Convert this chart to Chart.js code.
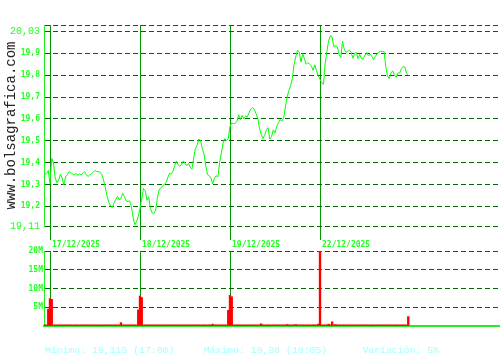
<!DOCTYPE html>
<html><head><meta charset="utf-8">
<script src="https://cdn.jsdelivr.net/npm/chart.js@4"></script>
<style>
html,body{margin:0;padding:0;background:#fff;}
#wrap{position:relative;width:500px;height:360px;overflow:hidden;background:#fff;}
canvas{position:absolute;left:0;}
#price{top:0;}
#vol{top:240px;}
#info{position:absolute;left:45px;top:344px;font-family:"Liberation Mono",monospace;font-size:9.8px;line-height:14px;color:#a6ffff;white-space:pre;}
</style></head><body>
<div id="wrap">
<canvas id="price" width="500" height="250"></canvas>
<canvas id="vol" width="500" height="100"></canvas>
<div id="info"></div>
</div>
<script>
// ---- data ----
const dates = ['17/12/2025', '18/12/2025', '19/12/2025', '22/12/2025'];
const prevPrices = [19.347, 19.35, 19.364];
const prices17 = [19.305,19.42,19.398,19.33,19.308,19.32,19.347,19.33,19.298,19.335,19.345,19.358,19.354,19.348,19.344,19.351,19.342,19.348,19.344,19.351,19.359,19.345,19.336,19.344,19.35,19.356,19.364,19.36,19.358,19.356,19.345,19.318,19.285,19.245,19.218,19.2,19.195,19.215,19.232,19.246,19.23,19.236,19.26,19.245,19.225,19.222,19.225,19.2,19.15,19.115,19.13,19.155];
const prices18 = [19.19,19.235,19.282,19.272,19.228,19.244,19.19,19.17,19.167,19.18,19.235,19.275,19.285,19.29,19.302,19.308,19.33,19.35,19.348,19.36,19.385,19.408,19.39,19.383,19.39,19.408,19.397,19.385,19.397,19.38,19.37,19.42,19.465,19.48,19.508,19.5,19.465,19.44,19.385,19.345,19.34,19.33,19.302,19.33,19.34,19.335,19.4,19.445,19.49,19.51,19.502,19.51];
const prices19 = [19.566,19.582,19.578,19.58,19.589,19.62,19.597,19.616,19.6,19.613,19.609,19.628,19.645,19.652,19.645,19.625,19.605,19.56,19.53,19.51,19.525,19.55,19.56,19.508,19.52,19.55,19.536,19.566,19.582,19.597,19.59,19.605,19.655,19.7,19.73,19.752,19.785,19.85,19.885,19.915,19.905,19.86,19.9,19.875,19.85,19.858,19.85,19.843,19.822,19.848,19.82,19.797];
const prices22 = [19.781,19.766,19.758,19.855,19.91,19.958,19.981,19.975,19.93,19.935,19.93,19.895,19.881,19.955,19.92,19.905,19.91,19.915,19.905,19.878,19.9,19.904,19.876,19.895,19.875,19.877,19.892,19.904,19.889,19.897,19.885,19.872,19.886,19.898,19.906,19.909,19.909,19.909,19.84,19.797,19.785,19.81,19.82,19.8,19.79,19.81,19.81,19.83,19.84,19.838,19.81,19.8];
// volume in millions, one value per 10-minute slot
const prevVolumes = [0.3, 0.3, 4.5];
const volumes17 = [7.3,7.1,0.3,0.3,0.3,0.3,0.3,0.3,0.3,0.3, 0.3,0.3,0.3,0.3,0.3,0.3,0.3,0.3,0.3,0.3, 0.3,0.3,0.3,0.3,0.3,0.3,0.3,0.3,0.3,0.3, 0.3,0.3,0.3,0.3,0.3,0.3,0.3,0.3,0.3,0.3, 0.3,0.9,0.3,0.3,0.3,0.3,0.3,0.3,0.3,0.3, 0.3,4.3];
const volumes18 = [8.0,7.6,0.3,0.3,0.3,0.3,0.3,0.3,0.3,0.3, 0.3,0.3,0.3,0.3,0.3,0.3,0.3,0.3,0.3,0.3, 0.3,0.3,0.3,0.3,0.3,0.3,0.3,0.3,0.3,0.3, 0.3,0.3,0.3,0.3,0.3,0.3,0.3,0.3,0.3,0.3, 0.3,0.3,0.5,0.3,0.3,0.3,0.3,0.3,0.3,0.3, 0.3,4.2];
const volumes19 = [8.2,7.8,0.3,0.3,0.3,0.3,0.3,0.3,0.3,0.3, 0.3,0.3,0.3,0.3,0.3,0.3,0.3,0.3,0.6,0.3, 0.3,0.3,0.3,0.3,0.3,0.3,0.3,0.3,0.3,0.3, 0.3,0.3,0.3,0.4,0.3,0.3,0.3,0.3,0.4,0.3, 0.3,0.3,0.3,0.3,0.3,0.3,0.3,0.3,0.3,0.3, 0.3,0.5];
const volumes22 = [20,0.3,0.3,0.3,0.3,0.5,0.3,1.1,0.3,0.4, 0.3,0.3,0.3,0.3,0.3,0.3,0.3,0.3,0.3,0.3, 0.3,0.3,0.3,0.3,0.3,0.3,0.3,0.3,0.3,0.3, 0.3,0.3,0.3,0.3,0.3,0.3,0.3,0.3,0.3,0.3, 0.3,0.3,0.3,0.3,0.3,0.3,0.3,0.3,0.3,0.3, 0.3,2.5];
const priceTicks = [19.11, 19.2, 19.3, 19.4, 19.5, 19.6, 19.7, 19.8, 19.9, 20.0, 20.03];
const volumeTicks = [0, 5, 10, 15, 20];
const infoText = 'Mínimo: 19,115 (17:00)     Máximo: 19,98 (10:05)      Variación: 5%';

// ---- build ----
const SLOTS = 52;
const X_MIN = -3.47, X_MAX = 260;
const dayStarts = dates.map((d, i) => i * SLOTS);

function toPoints(prev, days) {
  const pts = prev.map((v, i) => ({x: i - prev.length, y: v}));
  days.forEach((arr, d) => arr.forEach((v, i) => pts.push({x: d * SLOTS + i, y: v})));
  return pts;
}
const pricePts = toPoints(prevPrices, [prices17, prices18, prices19, prices22]);
const volPts = toPoints(prevVolumes, [volumes17, volumes18, volumes19, volumes22]);

document.getElementById('info').textContent = infoText;

const LIME = '#22ff22';
const AXIS = '#22ee22';
const SEP = '#009900';
const GRID = '#006600';
const smallFont = {family: 'DejaVu Sans Mono', size: 8, weight: 'bold'};
const bigFont = {family: 'Liberation Mono', size: 10, weight: 'normal'};

new Chart(document.getElementById('price'), {
  type: 'line',
  data: {datasets: [{data: pricePts, borderColor: '#00ff00', borderWidth: 1, pointRadius: 0, tension: 0, fill: false}]},
  options: {
    responsive: false, animation: false, devicePixelRatio: 1,
    layout: {padding: {top: 25, left: 0, right: 0, bottom: 0}},
    plugins: {legend: {display: false}, tooltip: {enabled: false}},
    scales: {
      x: {
        type: 'linear', min: X_MIN, max: X_MAX, offset: false,
        afterBuildTicks: s => { s.ticks = dayStarts.map(v => ({value: v})); },
        afterFit: s => { s.height = 24; },
        grid: {color: SEP, lineWidth: 1, drawTicks: true, tickLength: 14, offset: false},
        border: {display: false},
        ticks: {autoSkip: false, maxRotation: 0, minRotation: 0, align: 'start', padding: 0, labelOffset: 2,
          color: LIME, font: smallFont, callback: (v, i) => dates[i]}
      },
      y: {
        min: 19.11, max: 20.03,
        afterBuildTicks: s => { s.ticks = priceTicks.map(v => ({value: v})); },
        afterFit: s => { s.width = 44; },
        grid: {color: GRID, lineWidth: 1, drawTicks: false},
        border: {display: true, color: AXIS, width: 1, dash: [5, 3]},
        ticks: {
          autoSkip: false, padding: 4, color: LIME,
          font: ctx => (ctx.tick && (ctx.tick.value === 20.03 || ctx.tick.value === 19.11)) ? bigFont : smallFont,
          callback: v => v === 20.03 ? ['', '20,03'] : (v === 20 ? '' : String(v).replace('.', ','))
        },
        title: {display: true, text: 'www.bolsagrafica.com', color: '#222',
          font: {family: 'Liberation Mono', size: 14}, padding: {top: 3, bottom: 0}}
      }
    }
  }
});

new Chart(document.getElementById('vol'), {
  type: 'bar',
  data: {datasets: [{data: volPts, backgroundColor: '#ff0000', borderWidth: 0, barPercentage: 1, categoryPercentage: 1}]},
  options: {
    responsive: false, animation: false, devicePixelRatio: 1,
    layout: {padding: {top: 11, left: 0, right: 0, bottom: 14}},
    plugins: {legend: {display: false}, tooltip: {enabled: false}},
    scales: {
      x: {
        type: 'linear', min: X_MIN, max: X_MAX, offset: false,
        afterBuildTicks: s => { s.ticks = dayStarts.map(v => ({value: v})); },
        afterFit: s => { s.height = 0; },
        grid: {color: SEP, lineWidth: 1, drawTicks: false, offset: false},
        border: {display: true, color: AXIS, width: 2},
        ticks: {display: false, autoSkip: false}
      },
      y: {
        min: 0, max: 20,
        afterBuildTicks: s => { s.ticks = volumeTicks.map(v => ({value: v})); },
        afterFit: s => { s.width = 44; },
        grid: {color: ctx => (ctx.tick && ctx.tick.value === 0) ? 'rgba(0,0,0,0)' : GRID, lineWidth: 1, drawTicks: false},
        border: {display: true, color: AXIS, width: 1, dash: [5, 3]},
        ticks: {autoSkip: false, padding: 1, color: LIME, font: smallFont, callback: v => v === 0 ? '' : v + 'M'}
      }
    }
  }
});
</script>
</body></html>
